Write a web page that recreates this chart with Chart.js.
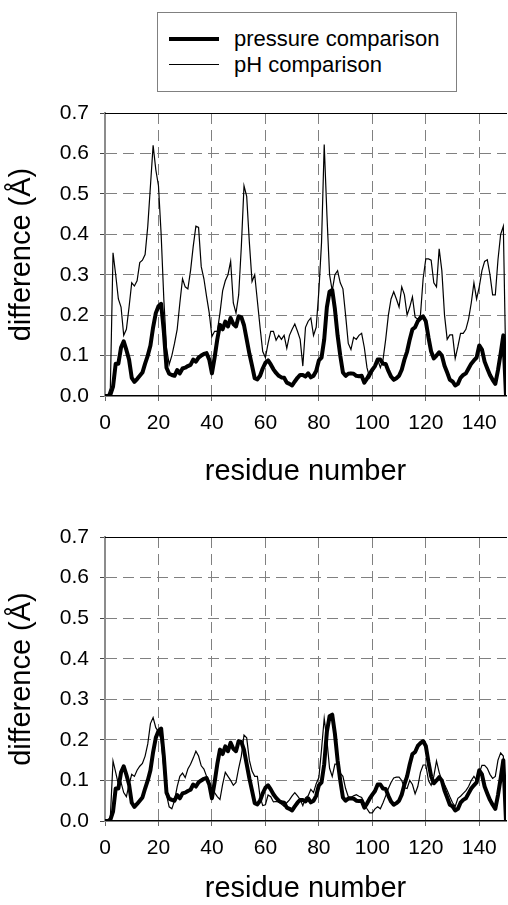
<!DOCTYPE html>
<html>
<head>
<meta charset="utf-8">
<script src="https://cdn.jsdelivr.net/npm/chart.js@4.4.1/dist/chart.umd.min.js"></script>
<style>
  html, body { margin: 0; padding: 0; background: #fff; }
  body { width: 508px; height: 905px; position: relative; overflow: hidden; font-family: "Liberation Sans", Arial, sans-serif; }
  #legend { position: absolute; left: 157px; top: 12px; width: 300px; height: 80px; border: 1px solid #808080; box-sizing: border-box; }
  #legend .swatch { position: absolute; left: 11px; width: 50px; background: #000; }
  #legend .label { position: absolute; left: 76px; font-size: 22px; line-height: 26px; color: #000; white-space: nowrap; }
  canvas { position: absolute; left: 0; }
  #top-chart { top: 0; }
  #bottom-chart { top: 430px; }
</style>
</head>
<body>
<div id="legend">
  <div class="swatch" style="top:24px;height:4px"></div>
  <div class="label" style="top:13px">pressure comparison</div>
  <div class="swatch" style="top:51px;height:1.3px"></div>
  <div class="label" style="top:39px">pH comparison</div>
</div>
<canvas id="top-chart" width="508" height="500"></canvas>
<canvas id="bottom-chart" width="508" height="475"></canvas>
<script>
// residue positions along the x axis
const residues = [
  0, 1, 2, 3, 4, 5, 6, 7, 8, 9, 10, 11, 12, 13, 14, 15, 16, 17, 18, 19,
  20, 21, 22, 23, 24, 25, 26, 27, 28, 29, 30, 31, 32, 33, 34, 35, 36, 37, 38, 39,
  40, 41, 42, 43, 44, 45, 46, 47, 48, 49, 50, 51, 52, 53, 54, 55, 56, 57, 58, 59,
  60, 61, 62, 63, 64, 65, 66, 67, 68, 69, 70, 71, 72, 73, 74, 75, 76, 77, 78, 79,
  80, 81, 82, 83, 84, 85, 86, 87, 88, 89, 90, 91, 92, 93, 94, 95, 96, 97, 98, 99,
  100, 101, 102, 103, 104, 105, 106, 107, 108, 109, 110, 111, 112, 113, 114, 115, 116, 117, 118, 119,
  120, 121, 122, 123, 124, 125, 126, 127, 128, 129, 130, 131, 132, 133, 134, 135, 136, 137, 138, 139,
  140, 141, 142, 143, 144, 145, 146, 147, 148, 149, 150,
];

// thick line, same in both panels
const pressureDiff = [
  0, 0, 0.003, 0.023, 0.08, 0.08, 0.12, 0.135, 0.114, 0.09,
  0.045, 0.035, 0.042, 0.05, 0.058, 0.08, 0.1, 0.125, 0.17, 0.205,
  0.222, 0.228, 0.16, 0.07, 0.055, 0.052, 0.05, 0.064, 0.056, 0.068,
  0.07, 0.074, 0.077, 0.09, 0.085, 0.095, 0.1, 0.104, 0.106, 0.09,
  0.056, 0.095, 0.14, 0.176, 0.165, 0.184, 0.172, 0.193, 0.178, 0.172,
  0.197, 0.195, 0.175, 0.14, 0.105, 0.075, 0.044, 0.041, 0.05, 0.068,
  0.082, 0.088, 0.078, 0.066, 0.057, 0.05, 0.046, 0.045, 0.033, 0.03,
  0.026, 0.036, 0.045, 0.052, 0.052, 0.048, 0.056, 0.046, 0.05, 0.062,
  0.088, 0.095, 0.14, 0.22, 0.258, 0.262, 0.215, 0.15, 0.1, 0.058,
  0.05, 0.055, 0.056, 0.055, 0.05, 0.049, 0.05, 0.033, 0.043, 0.055,
  0.065, 0.074, 0.09, 0.09, 0.08, 0.079, 0.062, 0.048, 0.04, 0.044,
  0.05, 0.065, 0.09, 0.11, 0.14, 0.165, 0.17, 0.185, 0.192, 0.197,
  0.185, 0.145, 0.11, 0.093, 0.1, 0.108, 0.1, 0.075, 0.058, 0.04,
  0.036, 0.026, 0.03, 0.045, 0.052, 0.056, 0.068, 0.08, 0.088, 0.095,
  0.125, 0.115, 0.085, 0.068, 0.052, 0.04, 0.03, 0.064, 0.105, 0.15,
  0,
];

// thin line, upper panel
const phDiffTop = [
  0, 0, 0.02, 0.354, 0.3, 0.24, 0.22, 0.15, 0.165, 0.22,
  0.28, 0.272, 0.285, 0.33, 0.336, 0.35, 0.42, 0.52, 0.62, 0.56,
  0.52, 0.4, 0.24, 0.12, 0.078, 0.1, 0.13, 0.165, 0.23, 0.29,
  0.27, 0.265, 0.31, 0.37, 0.42, 0.417, 0.32, 0.29, 0.246, 0.205,
  0.147, 0.16, 0.16, 0.205, 0.26, 0.285, 0.3, 0.333, 0.23, 0.205,
  0.25, 0.37, 0.52, 0.494, 0.38, 0.283, 0.3, 0.235, 0.17, 0.11,
  0.095, 0.13, 0.16, 0.16, 0.138, 0.15, 0.14, 0.15, 0.118, 0.15,
  0.165, 0.178, 0.16, 0.14, 0.074, 0.17, 0.185, 0.193, 0.15, 0.17,
  0.26, 0.38, 0.622, 0.45, 0.3, 0.26, 0.3, 0.31, 0.28, 0.265,
  0.2, 0.13, 0.115, 0.145, 0.14, 0.15, 0.155, 0.12, 0.07, 0.045,
  0.058, 0.073, 0.09, 0.07, 0.09, 0.14, 0.2, 0.24, 0.258, 0.24,
  0.22, 0.27, 0.25, 0.2, 0.22, 0.245, 0.195, 0.19, 0.2, 0.29,
  0.339, 0.339, 0.336, 0.28, 0.27, 0.364, 0.31, 0.2, 0.14, 0.151,
  0.151, 0.093, 0.122, 0.155, 0.155, 0.165, 0.19, 0.23, 0.28, 0.24,
  0.27, 0.31, 0.333, 0.337, 0.3, 0.25, 0.25, 0.337, 0.4, 0.42,
  0.05,
];

// thin line, lower panel
const phDiffBottom = [
  0, 0, 0.01, 0.148, 0.12, 0.09, 0.095, 0.07, 0.06, 0.09,
  0.115, 0.11, 0.125, 0.135, 0.142, 0.16, 0.19, 0.24, 0.255, 0.23,
  0.22, 0.2, 0.13, 0.065, 0.035, 0.03, 0.05, 0.085, 0.11, 0.118,
  0.107, 0.128, 0.14, 0.155, 0.172, 0.16, 0.136, 0.128, 0.11, 0.09,
  0.075, 0.07, 0.06, 0.053, 0.09, 0.12, 0.11, 0.1, 0.088, 0.095,
  0.13, 0.16, 0.212, 0.205, 0.15, 0.123, 0.11, 0.11, 0.06, 0.038,
  0.04, 0.064, 0.06, 0.047, 0.048, 0.047, 0.042, 0.036, 0.045, 0.052,
  0.062, 0.07, 0.062, 0.053, 0.038, 0.057, 0.062, 0.078, 0.07, 0.092,
  0.107, 0.177, 0.253, 0.2, 0.13, 0.11, 0.14, 0.14, 0.118, 0.11,
  0.08, 0.06, 0.058, 0.062, 0.065, 0.061, 0.058, 0.045, 0.03, 0.02,
  0.02, 0.03, 0.035, 0.03, 0.045, 0.062, 0.08, 0.095, 0.106, 0.108,
  0.108, 0.1, 0.082, 0.08, 0.1, 0.09, 0.067, 0.085, 0.12, 0.138,
  0.138, 0.1, 0.088, 0.11, 0.148, 0.12, 0.1, 0.09, 0.076, 0.06,
  0.045, 0.036, 0.056, 0.061, 0.068, 0.075, 0.085, 0.1, 0.11, 0.1,
  0.118, 0.137, 0.137, 0.13, 0.115, 0.105, 0.11, 0.15, 0.168, 0.16,
  0.02,
];

const xTicksStep = 20;
const yTicksStep = 0.1;

Chart.defaults.font.family = '"Liberation Sans", Arial, sans-serif';
Chart.defaults.color = '#000';

function toPoints(values) {
  return residues.map((r, i) => ({ x: r, y: values[i] }));
}

const hideEdge = (ctx, edges) =>
  ctx.tick && edges.some(e => Math.abs(ctx.tick.value - e) < 1e-6) ? 'rgba(0,0,0,0)' : '#808080';

function drawPanel(canvasId, phValues, box) {
  const canvas = document.getElementById(canvasId);
  return new Chart(canvas, {
    type: 'line',
    data: {
      datasets: [
        {
          label: 'pressure comparison',
          data: toPoints(pressureDiff),
          borderColor: '#000',
          borderWidth: 4,
          borderJoinStyle: 'round',
          pointRadius: 0,
          tension: 0,
        },
        {
          label: 'pH comparison',
          data: toPoints(phValues),
          borderColor: '#000',
          borderWidth: 1.2,
          pointRadius: 0,
          tension: 0,
        },
      ],
    },
    options: {
      responsive: false,
      animation: false,
      devicePixelRatio: 1,
      layout: { padding: { top: box.top, right: 2, left: 0, bottom: box.bottom } },
      plugins: { legend: { display: false }, tooltip: { enabled: false } },
      scales: {
        x: {
          type: 'linear',
          min: 0,
          max: 150,
          ticks: { stepSize: xTicksStep, includeBounds: false, autoSkip: false, maxRotation: 0,
                   padding: 9.4, font: { size: 21 } },
          grid: { color: ctx => hideEdge(ctx, [0]), lineWidth: 1, tickLength: 5,
                  tickColor: '#666', tickBorderDash: [] },
          border: { color: '#000', width: 1.5, dash: [11, 6] },
          title: { display: true, text: 'residue number', padding: 0,
                   font: { size: 29, lineHeight: 1 } },
          afterFit: s => { s.height = box.xHeight; },
        },
        y: {
          min: 0,
          max: 0.7,
          ticks: { stepSize: yTicksStep, padding: 11, font: { size: 21 },
                   callback: v => v.toFixed(1) },
          grid: { color: ctx => hideEdge(ctx, [0, 0.7]), lineWidth: 1, tickLength: 5,
                  tickColor: '#444', tickBorderDash: [] },
          border: { color: '#8c8c8c', width: 2, dash: [11, 6] },
          title: { display: true, text: 'difference (Å)', padding: { top: 7.5, bottom: 0 },
                   font: { size: 29, lineHeight: 1 } },
          afterFit: s => { s.width = 105; },
        },
        frame: {
          type: 'linear',
          position: 'top',
          min: 0,
          max: 150,
          ticks: { display: false },
          grid: { display: false, drawTicks: false },
          border: { color: '#000', width: 1 },
          afterFit: s => { s.height = 0; },
        },
      },
    },
  });
}

drawPanel('top-chart', phDiffTop, { top: 113, bottom: 13.5, xHeight: 90.5 });
drawPanel('bottom-chart', phDiffBottom, { top: 107, bottom: 1.5, xHeight: 82.5 });
</script>
</body>
</html>
